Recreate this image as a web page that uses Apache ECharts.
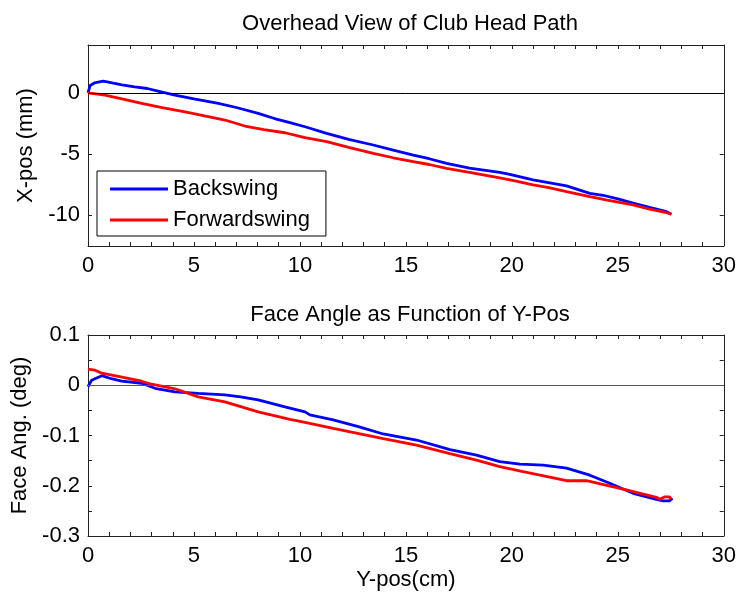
<!DOCTYPE html>
<html>
<head>
<meta charset="utf-8">
<script src="https://cdn.jsdelivr.net/npm/echarts@6/dist/echarts.min.js"></script>
<style>html,body{margin:0;padding:0;background:#fff}#c{width:739px;height:596px}</style>
</head>
<body>
<div id="c"></div>
<script>
// ---- Data ----
const topTitle = "Overhead View of Club Head Path";
const bottomTitle = "Face Angle as Function of Y-Pos";
const seriesNames = ["Backswing", "Forwardswing"];
const topYTicks = [-10, -5, 0];

// Top plot: [Y-pos (cm), X-pos (mm)]
const topBackswing = [
  [0,0],[0.1,0.6],[0.3,0.8],[0.72,0.95],[1.2,0.78],[1.6,0.65],[2.2,0.49],[2.8,0.35],[3.4,0.1],
  [4.1,-0.19],[5.0,-0.5],[6.15,-0.87],[7.0,-1.2],[8.03,-1.68],[8.8,-2.1],[9.53,-2.44],[10.24,-2.77],
  [11.26,-3.31],[12.3,-3.8],[13.46,-4.26],[14.4,-4.68],[15.35,-5.08],[16.1,-5.38],[16.92,-5.76],
  [18.0,-6.15],[19.43,-6.5],[19.9,-6.65],[21.0,-7.11],[22.58,-7.6],[23.68,-8.2],[24.3,-8.36],
  [25.0,-8.65],[25.72,-9.0],[26.5,-9.35],[27.3,-9.7],[27.53,-9.91]
];
const topForwardswing = [
  [0,0],[0.8,-0.19],[1.6,-0.5],[2.53,-0.87],[3.5,-1.2],[4.58,-1.55],[5.5,-1.88],[6.46,-2.22],
  [7.4,-2.71],[8.3,-3.0],[9.29,-3.26],[10.24,-3.65],[11.26,-3.99],[12.3,-4.45],[13.46,-4.94],
  [14.4,-5.3],[15.35,-5.62],[16.1,-5.85],[16.92,-6.16],[18.0,-6.5],[19.43,-6.95],[20.2,-7.2],
  [21.0,-7.52],[21.8,-7.75],[22.58,-8.07],[23.68,-8.47],[24.5,-8.75],[25.72,-9.15],[26.5,-9.5],
  [27.3,-9.78],[27.53,-9.91]
];

// Bottom plot: [Y-pos (cm), Face angle (deg)]
const bottomBackswing = [
  [0,-0.003],[0.17,0.010],[0.65,0.019],[1.1,0.013],[1.59,0.008],[2.53,0.004],[3.16,-0.006],
  [4.1,-0.013],[5.2,-0.016],[6.46,-0.019],[7.2,-0.023],[8.03,-0.029],[9.29,-0.043],[10.24,-0.053],
  [10.47,-0.059],[11.57,-0.069],[12.8,-0.083],[13.93,-0.097],[15.5,-0.109],[17.08,-0.128],
  [18.33,-0.139],[19.43,-0.152],[20.38,-0.157],[21.48,-0.159],[22.58,-0.165],[23.68,-0.179],
  [24.62,-0.195],[25.72,-0.215],[26.82,-0.227],[27.14,-0.23],[27.45,-0.23],[27.58,-0.225]
];
const bottomForwardswing = [
  [0,0.032],[0.33,0.030],[0.65,0.024],[1.6,0.016],[2.53,0.008],[3.0,0.002],[4.1,-0.007],
  [5.2,-0.023],[6.46,-0.033],[8.03,-0.053],[9.53,-0.068],[10.24,-0.074],[11.57,-0.086],
  [13.93,-0.106],[15.5,-0.119],[17.08,-0.136],[18.33,-0.149],[19.43,-0.162],[20.53,-0.172],
  [22.58,-0.19],[23.52,-0.19],[25.4,-0.208],[26.82,-0.223],[26.98,-0.227],[27.22,-0.222],
  [27.45,-0.222],[27.48,-0.227]
];

// ---- Chart ----
const FONT = "Liberation Sans, Arial, sans-serif";
const FS = 22;
const axisLine = {show: true, onZero: false, lineStyle: {color: '#222', width: 1}};
const tick = {show: true, inside: true, length: 4, lineStyle: {color: '#222', width: 1}};

function xAxes(gridIndex, withName) {
  return [
    {type: 'value', gridIndex, position: 'bottom', min: 0, max: 30, interval: 1,
     axisLine, axisTick: tick, splitLine: {show: false},
     axisLabel: {color: '#000', fontFamily: FONT, fontSize: FS, margin: 9,
       formatter: v => (Math.round(v) % 5 === 0 ? String(Math.round(v)) : '')},
     name: withName ? 'Y-pos(cm)' : '', nameLocation: 'middle', nameGap: 33,
     nameTextStyle: {color: '#000', fontFamily: FONT, fontSize: FS}},
    {type: 'value', gridIndex, position: 'top', min: 0, max: 30, interval: 1,
     axisLine, axisTick: tick, axisLabel: {show: false}, splitLine: {show: false}}
  ];
}

const option = {
  backgroundColor: '#fff',
  animation: false,
  title: [
    {text: topTitle, left: 405, top: 8, textAlign: 'center',
     textStyle: {fontFamily: FONT, fontSize: FS, fontWeight: 'normal', color: '#000'}},
    {text: bottomTitle, left: 405, top: 299, textAlign: 'center',
     textStyle: {fontFamily: FONT, fontSize: FS, fontWeight: 'normal', color: '#000'}}
  ],
  legend: {
    data: seriesNames, orient: 'vertical', left: 97, top: 171,
    backgroundColor: '#fff', borderColor: '#000', borderWidth: 1,
    padding: [7, 16, 5, 13], itemGap: 9, itemWidth: 58, itemHeight: 3,
    icon: 'rect', textStyle: {fontFamily: FONT, fontSize: FS, color: '#000'}
  },
  grid: [
    {left: 88, width: 636, top: 45, height: 201},
    {left: 88, width: 636, top: 335, height: 201}
  ],
  xAxis: [...xAxes(0, false), ...xAxes(1, true)],
  yAxis: [
    {type: 'value', gridIndex: 0, position: 'left', min: -12.5, max: 3.9,
     axisLine, axisTick: Object.assign({}, tick, {customValues: topYTicks}),
     splitLine: {show: false},
     axisLabel: {color: '#000', fontFamily: FONT, fontSize: FS, margin: 8, customValues: topYTicks},
     name: 'X-pos (mm)', nameLocation: 'middle', nameGap: 51,
     nameTextStyle: {color: '#000', fontFamily: FONT, fontSize: FS}},
    {type: 'value', gridIndex: 0, position: 'right', min: -12.5, max: 3.9,
     axisLine, axisTick: Object.assign({}, tick, {customValues: topYTicks}),
     axisLabel: {show: false}, splitLine: {show: false}},
    {type: 'value', gridIndex: 1, position: 'left', min: -0.3, max: 0.1, interval: 0.05,
     axisLine, axisTick: tick, splitLine: {show: false},
     axisLabel: {color: '#000', fontFamily: FONT, fontSize: FS, margin: 8,
       formatter: v => (Math.round(v * 20) % 2 === 0 ? String(Math.round(v * 10) / 10) : '')},
     name: 'Face Ang. (deg)', nameLocation: 'middle', nameGap: 55,
     nameTextStyle: {color: '#000', fontFamily: FONT, fontSize: FS}},
    {type: 'value', gridIndex: 1, position: 'right', min: -0.3, max: 0.1, interval: 0.05,
     axisLine, axisTick: tick, axisLabel: {show: false}, splitLine: {show: false}}
  ],
  series: [
    {name: seriesNames[0], type: 'line', xAxisIndex: 0, yAxisIndex: 0, data: topBackswing,
     showSymbol: false, color: '#0000ff', lineStyle: {width: 2.8, color: '#0000ff'},
     markLine: {silent: true, symbol: 'none', label: {show: false},
       lineStyle: {color: '#000', width: 1, type: 'solid'}, data: [{yAxis: 0}]}},
    {name: seriesNames[1], type: 'line', xAxisIndex: 0, yAxisIndex: 0, data: topForwardswing,
     showSymbol: false, color: '#ff0000', lineStyle: {width: 2.8, color: '#ff0000'}},
    {name: seriesNames[0], type: 'line', xAxisIndex: 2, yAxisIndex: 2, data: bottomBackswing,
     showSymbol: false, color: '#0000ff', lineStyle: {width: 2.8, color: '#0000ff'},
     markLine: {silent: true, symbol: 'none', label: {show: false},
       lineStyle: {color: '#555', width: 1, type: 'solid'}, data: [{yAxis: 0}]}},
    {name: seriesNames[1], type: 'line', xAxisIndex: 2, yAxisIndex: 2, data: bottomForwardswing,
     showSymbol: false, color: '#ff0000', lineStyle: {width: 2.8, color: '#ff0000'}}
  ]
};
echarts.init(document.getElementById('c')).setOption(option);
</script>
</body>
</html>
